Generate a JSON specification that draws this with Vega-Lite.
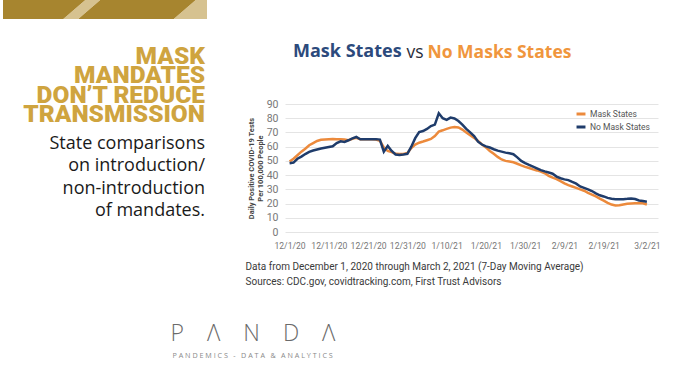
{
  "$schema": "https://vega.github.io/schema/vega-lite/v6.json",
  "padding": 0,
  "background": "white",
  "bounds": "flush",
  "spacing": 0,
  "columns": 2,
  "datasets": {
    "mask": [
      {"d":"2020-12-01","v":49.5},{"d":"2020-12-02","v":51.5},{"d":"2020-12-03","v":54},{"d":"2020-12-04","v":56.5},{"d":"2020-12-05","v":58.5},
      {"d":"2020-12-06","v":61},{"d":"2020-12-07","v":62.5},{"d":"2020-12-08","v":64},{"d":"2020-12-09","v":64.8},{"d":"2020-12-10","v":65.1},
      {"d":"2020-12-11","v":65.3},{"d":"2020-12-12","v":65.4},{"d":"2020-12-13","v":65.3},{"d":"2020-12-14","v":65.2},{"d":"2020-12-15","v":65},
      {"d":"2020-12-16","v":64.6},{"d":"2020-12-17","v":65.5},{"d":"2020-12-18","v":66.2},{"d":"2020-12-19","v":65.2},{"d":"2020-12-20","v":65.2},
      {"d":"2020-12-21","v":65.3},{"d":"2020-12-22","v":65.2},{"d":"2020-12-23","v":65},{"d":"2020-12-24","v":64.2},{"d":"2020-12-25","v":59.5},
      {"d":"2020-12-26","v":57},{"d":"2020-12-27","v":56.2},{"d":"2020-12-28","v":55},{"d":"2020-12-29","v":54.8},{"d":"2020-12-30","v":54.8},
      {"d":"2020-12-31","v":55.5},{"d":"2021-01-01","v":59},{"d":"2021-01-02","v":61.5},{"d":"2021-01-03","v":62.8},{"d":"2021-01-04","v":63.6},
      {"d":"2021-01-05","v":64.5},{"d":"2021-01-06","v":65.4},{"d":"2021-01-07","v":67.5},{"d":"2021-01-08","v":70.6},{"d":"2021-01-09","v":71.5},
      {"d":"2021-01-10","v":72.5},{"d":"2021-01-11","v":73.4},{"d":"2021-01-12","v":73.9},{"d":"2021-01-13","v":73.5},{"d":"2021-01-14","v":72},
      {"d":"2021-01-15","v":70},{"d":"2021-01-16","v":68},{"d":"2021-01-17","v":66.2},{"d":"2021-01-18","v":64},{"d":"2021-01-19","v":61.5},
      {"d":"2021-01-20","v":59.5},{"d":"2021-01-21","v":57},{"d":"2021-01-22","v":55},{"d":"2021-01-23","v":52.8},{"d":"2021-01-24","v":51},
      {"d":"2021-01-25","v":50},{"d":"2021-01-26","v":49.5},{"d":"2021-01-27","v":49},{"d":"2021-01-28","v":48},{"d":"2021-01-29","v":46.8},
      {"d":"2021-01-30","v":45.8},{"d":"2021-01-31","v":45},{"d":"2021-02-01","v":44},{"d":"2021-02-02","v":43.3},{"d":"2021-02-03","v":42.5},
      {"d":"2021-02-04","v":41.3},{"d":"2021-02-05","v":39.5},{"d":"2021-02-06","v":38.2},{"d":"2021-02-07","v":37.2},{"d":"2021-02-08","v":35.8},
      {"d":"2021-02-09","v":34.2},{"d":"2021-02-10","v":33},{"d":"2021-02-11","v":32},{"d":"2021-02-12","v":31},{"d":"2021-02-13","v":30},
      {"d":"2021-02-14","v":29},{"d":"2021-02-15","v":27.5},{"d":"2021-02-16","v":26.3},{"d":"2021-02-17","v":25},{"d":"2021-02-18","v":23.5},
      {"d":"2021-02-19","v":22},{"d":"2021-02-20","v":20.5},{"d":"2021-02-21","v":19.3},{"d":"2021-02-22","v":18.7},{"d":"2021-02-23","v":18.8},
      {"d":"2021-02-24","v":19.3},{"d":"2021-02-25","v":19.8},{"d":"2021-02-26","v":20},{"d":"2021-02-27","v":20.2},{"d":"2021-02-28","v":20.3},
      {"d":"2021-03-01","v":20.2},{"d":"2021-03-02","v":19.3}
    ],
    "nomask": [
      {"d":"2020-12-01","v":48.4},{"d":"2020-12-02","v":48.8},{"d":"2020-12-03","v":51.5},{"d":"2020-12-04","v":53},{"d":"2020-12-05","v":54.8},
      {"d":"2020-12-06","v":56.3},{"d":"2020-12-07","v":57.3},{"d":"2020-12-08","v":58},{"d":"2020-12-09","v":58.7},{"d":"2020-12-10","v":59.3},
      {"d":"2020-12-11","v":59.8},{"d":"2020-12-12","v":60.3},{"d":"2020-12-13","v":62.5},{"d":"2020-12-14","v":63.8},{"d":"2020-12-15","v":63.3},
      {"d":"2020-12-16","v":64.5},{"d":"2020-12-17","v":65.8},{"d":"2020-12-18","v":66.8},{"d":"2020-12-19","v":65.2},{"d":"2020-12-20","v":65.3},
      {"d":"2020-12-21","v":65.3},{"d":"2020-12-22","v":65.3},{"d":"2020-12-23","v":65.3},{"d":"2020-12-24","v":65},{"d":"2020-12-25","v":56.5},
      {"d":"2020-12-26","v":60.5},{"d":"2020-12-27","v":57},{"d":"2020-12-28","v":54.5},{"d":"2020-12-29","v":54.2},{"d":"2020-12-30","v":54.5},
      {"d":"2020-12-31","v":55},{"d":"2021-01-01","v":60},{"d":"2021-01-02","v":66},{"d":"2021-01-03","v":70.3},{"d":"2021-01-04","v":71},
      {"d":"2021-01-05","v":72.5},{"d":"2021-01-06","v":74.5},{"d":"2021-01-07","v":75.5},{"d":"2021-01-08","v":83.5},{"d":"2021-01-09","v":80},
      {"d":"2021-01-10","v":78.8},{"d":"2021-01-11","v":80.4},{"d":"2021-01-12","v":79.8},{"d":"2021-01-13","v":78},{"d":"2021-01-14","v":75.5},
      {"d":"2021-01-15","v":72.5},{"d":"2021-01-16","v":70},{"d":"2021-01-17","v":67.5},{"d":"2021-01-18","v":63.5},{"d":"2021-01-19","v":61.5},
      {"d":"2021-01-20","v":60.2},{"d":"2021-01-21","v":59.4},{"d":"2021-01-22","v":58.2},{"d":"2021-01-23","v":57.2},{"d":"2021-01-24","v":56.5},
      {"d":"2021-01-25","v":55.8},{"d":"2021-01-26","v":55.4},{"d":"2021-01-27","v":54.7},{"d":"2021-01-28","v":52.5},{"d":"2021-01-29","v":50},
      {"d":"2021-01-30","v":48.5},{"d":"2021-01-31","v":47.2},{"d":"2021-02-01","v":46},{"d":"2021-02-02","v":44.8},{"d":"2021-02-03","v":43.5},
      {"d":"2021-02-04","v":42.6},{"d":"2021-02-05","v":41.8},{"d":"2021-02-06","v":41},{"d":"2021-02-07","v":39},{"d":"2021-02-08","v":37.8},
      {"d":"2021-02-09","v":37},{"d":"2021-02-10","v":36.5},{"d":"2021-02-11","v":35.2},{"d":"2021-02-12","v":34},{"d":"2021-02-13","v":32},
      {"d":"2021-02-14","v":31},{"d":"2021-02-15","v":30},{"d":"2021-02-16","v":28.8},{"d":"2021-02-17","v":27.2},{"d":"2021-02-18","v":25.8},
      {"d":"2021-02-19","v":25},{"d":"2021-02-20","v":24},{"d":"2021-02-21","v":23.4},{"d":"2021-02-22","v":23.1},{"d":"2021-02-23","v":23},
      {"d":"2021-02-24","v":23.1},{"d":"2021-02-25","v":23.3},{"d":"2021-02-26","v":23.6},{"d":"2021-02-27","v":23.2},{"d":"2021-02-28","v":22.2},
      {"d":"2021-03-01","v":21.8},{"d":"2021-03-02","v":21.3}
    ]
  },
  "concat": [
    {
      "width": 204,
      "height": 19,
      "view": {
        "stroke": null,
        "fill": {
          "gradient": "linear",
          "x1": 0, "y1": 0, "x2": 1, "y2": 0.108,
          "stops": [
            {"offset": 0, "color": "#a7852f"},
            {"offset": 0.395, "color": "#a7852f"},
            {"offset": 0.4, "color": "#d6c290"},
            {"offset": 0.47, "color": "#d6c290"},
            {"offset": 0.475, "color": "#a7852f"},
            {"offset": 0.93, "color": "#a7852f"},
            {"offset": 0.935, "color": "#d6c290"},
            {"offset": 1, "color": "#d6c290"}
          ]
        }
      },
      "data": {"values": [{"a": 0}]},
      "mark": {"type": "point", "opacity": 0},
      "encoding": {}
    },
    {
      "width": 373,
      "height": 104,
      "title": {
        "text": "Mask States",
        "orient": "top",
        "anchor": "start",
        "frame": "group",
        "dx": 8,
        "offset": -61,
        "color": "#2c4a7c",
        "font": "Open Sans",
        "fontSize": 18,
        "fontWeight": 700
      },
      "data": {"values": [{"a": 0, "b": 0}]},
      "mark": {"type": "point", "opacity": 0},
      "encoding": {
        "x": {
          "field": "a", "type": "quantitative", "scale": {"domain": [0, 1]},
          "axis": {
            "labels": false, "ticks": false, "domain": false, "grid": false,
            "title": "No Masks States",
            "titleX": 142, "titleY": -47, "titleAlign": "left", "titleAnchor": "start", "titleBaseline": "alphabetic",
            "titleColor": "#f0963d", "titleFont": "Open Sans", "titleFontSize": 17.5, "titleFontWeight": 700
          }
        },
        "y": {
          "field": "b", "type": "quantitative", "scale": {"domain": [0, 1]},
          "axis": {
            "labels": false, "ticks": false, "domain": false, "grid": false,
            "title": "vs",
            "titleAngle": 0, "titleX": 121, "titleY": 57, "titleAlign": "left", "titleAnchor": "start", "titleBaseline": "alphabetic",
            "titleColor": "#2a2d3a", "titleFont": "Open Sans", "titleFontSize": 17.5, "titleFontWeight": 400
          }
        }
      }
    },
    {
      "width": 282,
      "height": 128,
      "title": {
        "text": ["MASK", "MANDATES", "DON’T REDUCE", "TRANSMISSION"],
        "subtitle": ["State comparisons", "on introduction/", "non-introduction", "of mandates."],
        "orient": "top",
        "anchor": "end",
        "align": "right",
        "frame": "group",
        "dx": -80,
        "offset": -117,
        "color": "#cfa43f",
        "font": "Roboto",
        "fontSize": 24.5,
        "fontWeight": 900,
        "lineHeight": 19.5,
        "subtitleColor": "#1a1a1a",
        "subtitleFont": "Open Sans",
        "subtitleFontSize": 18,
        "subtitleFontWeight": 400,
        "subtitleLineHeight": 22.5,
        "subtitlePadding": 7
      },
      "data": {"values": [{"a": 0, "b": 0}]},
      "mark": {"type": "point", "opacity": 0},
      "encoding": {
        "x": {
          "field": "a", "type": "quantitative", "scale": {"domain": [0, 1]},
          "axis": {
            "labels": false, "ticks": false, "domain": false, "grid": false,
            "title": "P\u2003Λ\u2003N\u2003D\u2003Λ",
            "titleX": 167, "titleY": 108, "titleAlign": "left", "titleAnchor": "start", "titleBaseline": "alphabetic",
            "titleColor": "#6b6b6b", "titleFont": "Open Sans", "titleFontSize": 23, "titleFontWeight": 300
          }
        },
        "y": {
          "field": "b", "type": "quantitative", "scale": {"domain": [0, 1]},
          "axis": {
            "labels": false, "ticks": false, "domain": false, "grid": false,
            "title": "P A N D E M I C S \u2002-\u2002 D A T A \u2002&\u2002 A N A L Y T I C S",
            "titleAngle": 0, "titleX": 169, "titleY": 253, "titleAlign": "left", "titleAnchor": "start", "titleBaseline": "alphabetic",
            "titleColor": "#8a8a8a", "titleFont": "Open Sans", "titleFontSize": 7.2, "titleFontWeight": 400
          }
        }
      }
    },
    {
      "width": 373,
      "height": 128,
      "encoding": {
        "x": {
          "field": "d", "type": "temporal",
          "scale": {"type": "utc", "domain": [{"year": 2020, "month": 11, "date": 29, "hours": 20, "utc": true}, {"year": 2021, "month": 3, "date": 4, "hours": 20, "utc": true}]},
          "axis": {
            "values": [
              {"year": 2020, "month": 12, "date": 1, "utc": true},
              {"year": 2020, "month": 12, "date": 11, "utc": true},
              {"year": 2020, "month": 12, "date": 21, "utc": true},
              {"year": 2020, "month": 12, "date": 31, "utc": true},
              {"year": 2021, "month": 1, "date": 10, "utc": true},
              {"year": 2021, "month": 1, "date": 20, "utc": true},
              {"year": 2021, "month": 1, "date": 30, "utc": true},
              {"year": 2021, "month": 2, "date": 9, "utc": true},
              {"year": 2021, "month": 2, "date": 19, "utc": true},
              {"year": 2021, "month": 3, "date": 2, "utc": true}
            ],
            "format": "%-m/%-d/%y",
            "labelFont": "Roboto", "labelFontSize": 8.6, "labelColor": "#777777", "labelPadding": 9,
            "labelFlush": false, "labelOverlap": false,
            "ticks": false, "domain": false, "grid": false,
            "title": ["Data from December 1, 2020 through March 2, 2021 (7-Day Moving Average)", "Sources: CDC.gov, covidtracking.com, First Trust Advisors"],
            "titleX": -40, "titleY": 29, "titleAlign": "left", "titleAnchor": "start", "titleBaseline": "top",
            "titleFont": "Roboto", "titleFontSize": 10, "titleFontWeight": 400, "titleColor": "#3a3a3a", "titleLineHeight": 15
          }
        },
        "y": {
          "field": "v", "type": "quantitative",
          "scale": {"domain": [0, 90], "nice": false},
          "axis": {
            "values": [0, 10, 20, 30, 40, 50, 60, 70, 80, 90],
            "grid": true, "gridColor": "#e4e4e4", "gridWidth": 1,
            "ticks": false, "domain": false,
            "labelFont": "Roboto", "labelFontSize": 10.5, "labelColor": "#777777", "labelPadding": 7,
            "title": ["Daily Positive COVID-19 Tests", "Per 100,000 People"],
            "titleFont": "Roboto", "titleFontSize": 7.5, "titleFontWeight": 700, "titleColor": "#444444",
            "titleAngle": -90, "titleX": -38, "titleY": 64, "titleAlign": "center", "titleBaseline": "top", "titleLineHeight": 9.5
          }
        }
      },
      "layer": [
        {
          "data": {"name": "mask"},
          "mark": {"type": "line", "strokeWidth": 2.5},
          "encoding": {
            "color": {
              "datum": "Mask States",
              "scale": {"domain": ["Mask States", "No Mask States"], "range": ["#ec8a3c", "#1f3c6b"]},
              "legend": {
                "orient": "none", "legendX": 572, "legendY": 108, "title": null,
                "symbolType": "stroke", "symbolSize": 80, "symbolStrokeWidth": 3,
                "labelFont": "Roboto", "labelFontSize": 8.5, "labelColor": "#555555",
                "labelOffset": 3, "rowPadding": 1, "padding": 0
              }
            }
          }
        },
        {
          "data": {"name": "nomask"},
          "mark": {"type": "line", "strokeWidth": 2.5},
          "encoding": {"color": {"datum": "No Mask States"}}
        }
      ]
    }
  ],
  "config": {
    "view": {"stroke": null},
    "font": "Open Sans"
  }
}
